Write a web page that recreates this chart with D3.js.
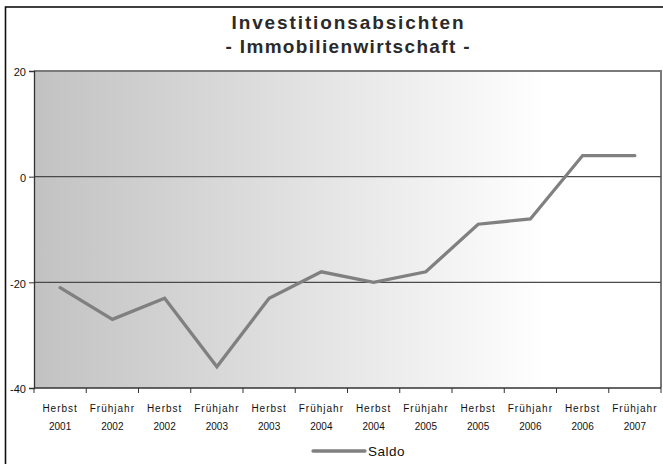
<!DOCTYPE html>
<html>
<head>
<meta charset="utf-8">
<script src="https://cdn.jsdelivr.net/npm/d3@7"></script>
<style>
  html, body { margin: 0; padding: 0; background: #fff; }
  svg { display: block; font-family: "Liberation Sans", Arial, sans-serif; }
</style>
</head>
<body>
<svg id="chart" width="663" height="464"></svg>
<script>
// Survey periods (season + year) and the balance ("Saldo") per period
const seasons = ["Herbst", "Frühjahr", "Herbst", "Frühjahr", "Herbst", "Frühjahr",
                 "Herbst", "Frühjahr", "Herbst", "Frühjahr", "Herbst", "Frühjahr"];
const years = ["2001", "2002", "2002", "2003", "2003", "2004",
               "2004", "2005", "2005", "2006", "2006", "2007"];
const saldo = [-21, -27, -23, -36, -23, -18, -20, -18, -9, -8, 4, 4];
const yTicks = [-40, -20, 0, 20];
const titleLines = ["Investitionsabsichten", "- Immobilienwirtschaft -"];
const seriesName = "Saldo";

const svg = d3.select("#chart");
const W = 663, H = 464;
const plot = { left: 34, right: 661, top: 71, bottom: 388 };

const categories = seasons.map((s, i) => s + " " + years[i]);
const x = d3.scaleBand().domain(categories).range([plot.left, plot.right]).padding(0);
const y = d3.scaleLinear().domain([-40, 20]).range([plot.bottom, plot.top]);

// outer chart frame
svg.append("rect")
  .attr("x", 5.5).attr("y", 7)
  .attr("width", W + 10).attr("height", H + 10)
  .attr("fill", "#fff").attr("stroke", "#111").attr("stroke-width", 1.6);

// title
const titleWidths = [232, 244];
svg.append("g").selectAll("text").data(titleLines).join("text")
  .attr("x", 347.5)
  .attr("y", (d, i) => 29 + i * 24)
  .attr("text-anchor", "middle")
  .attr("font-size", 19)
  .attr("font-weight", "bold")
  .attr("fill", "#2a2a2a")
  .attr("textLength", (d, i) => titleWidths[i])
  .attr("lengthAdjust", "spacing")
  .text(d => d);

// plot background: horizontal grey-to-white gradient
const defs = svg.append("defs");
const grad = defs.append("linearGradient").attr("id", "bg")
  .attr("x1", "0%").attr("x2", "100%").attr("y1", "0%").attr("y2", "0%");
grad.append("stop").attr("offset", "0%").attr("stop-color", "#c2c2c2");
grad.append("stop").attr("offset", "82%").attr("stop-color", "#ffffff");
grad.append("stop").attr("offset", "100%").attr("stop-color", "#ffffff");

svg.append("rect")
  .attr("x", plot.left).attr("y", plot.top)
  .attr("width", plot.right - plot.left).attr("height", plot.bottom - plot.top)
  .attr("fill", "url(#bg)");

// plot area border (top and right)
svg.append("path")
  .attr("d", `M${plot.left},${y(20)}H${plot.right}V${plot.bottom}`)
  .attr("fill", "none").attr("stroke", "#7a7a7a").attr("stroke-width", 2);

// horizontal gridlines
svg.append("g").selectAll("line").data(yTicks.filter(t => t > -40 && t < 20)).join("line")
  .attr("x1", plot.left).attr("x2", plot.right)
  .attr("y1", d => y(d)).attr("y2", d => y(d))
  .attr("stroke", "#4a4a4a").attr("stroke-width", 1.2);

// y axis
const yAxis = svg.append("g")
  .attr("transform", `translate(${plot.left},0)`)
  .call(d3.axisLeft(y).tickValues(yTicks).tickSize(5).tickPadding(3).tickFormat(d => String(d)));
yAxis.select(".domain").attr("stroke", "#333").attr("stroke-width", 1.3);
yAxis.selectAll(".tick line").attr("stroke", "#333");
yAxis.selectAll("text").attr("font-size", 11).attr("fill", "#111")
  .attr("font-family", "Liberation Sans, Arial, sans-serif").attr("dy", "0.45em");

// x axis line with ticks at category boundaries
const xAxis = svg.append("g").attr("transform", `translate(0,${plot.bottom})`);
xAxis.append("line")
  .attr("x1", plot.left).attr("x2", plot.right)
  .attr("stroke", "#333").attr("stroke-width", 1.3);
const boundaries = categories.map(c => x(c)).concat([x(categories[categories.length - 1]) + x.bandwidth()]);
xAxis.selectAll("line.tk").data(boundaries).join("line").attr("class", "tk")
  .attr("x1", d => d).attr("x2", d => d)
  .attr("y1", 0).attr("y2", 5)
  .attr("stroke", "#333");
const lbl = xAxis.selectAll("text.lb").data(categories).join("text").attr("class", "lb")
  .attr("text-anchor", "middle")
  .attr("font-size", 10)
  .attr("fill", "#111");
lbl.append("tspan")
  .attr("x", d => x(d) + x.bandwidth() / 2).attr("y", 24)
  .attr("letter-spacing", 1)
  .text((d, i) => seasons[i]);
lbl.append("tspan")
  .attr("x", d => x(d) + x.bandwidth() / 2).attr("y", 42)
  .text((d, i) => years[i]);

// data line
const line = d3.line()
  .x((d, i) => x(categories[i]) + x.bandwidth() / 2)
  .y(d => y(d));
svg.append("path")
  .datum(saldo)
  .attr("d", line)
  .attr("fill", "none")
  .attr("stroke", "#808080")
  .attr("stroke-width", 3.3)
  .attr("stroke-linejoin", "miter")
  .attr("stroke-linecap", "round");

// legend
const legend = svg.append("g");
legend.append("line")
  .attr("x1", 313).attr("x2", 365).attr("y1", 451).attr("y2", 451)
  .attr("stroke", "#808080").attr("stroke-width", 3.3).attr("stroke-linecap", "round");
legend.append("text")
  .attr("x", 368).attr("y", 456)
  .attr("font-size", 13.5).attr("fill", "#111")
  .attr("letter-spacing", 0.5)
  .text(seriesName);
</script>
</body>
</html>
